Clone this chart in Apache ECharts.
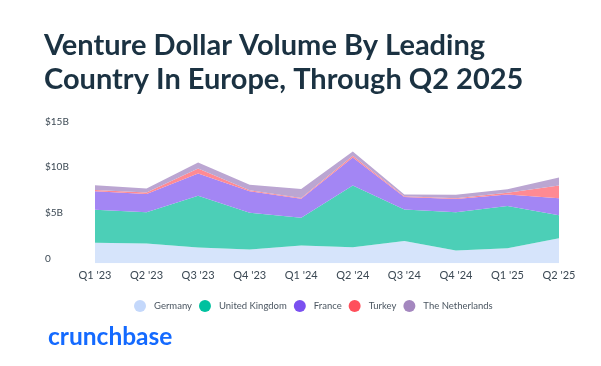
<!DOCTYPE html>
<html>
<head>
<meta charset="utf-8">
<script src="https://cdn.jsdelivr.net/npm/echarts@6/dist/echarts.min.js"></script>
<style>
html,body{margin:0;padding:0;background:#fff;}
#chart{width:601px;height:366px;}
</style>
</head>
<body>
<div id="chart"></div>
<script>
const categories = ["Q1 '23","Q2 '23","Q3 '23","Q4 '23","Q1 '24","Q2 '24","Q3 '24","Q4 '24","Q1 '25","Q2 '25"];
const germany = [2.24, 2.17, 1.74, 1.52, 1.96, 1.76, 2.45, 1.40, 1.65, 2.74];
const unitedKingdom = [3.62, 3.43, 5.66, 4.03, 3.04, 6.77, 3.45, 4.20, 4.63, 2.53];
const france = [2.04, 2.00, 2.45, 2.35, 2.07, 3.07, 1.36, 1.44, 1.27, 1.85];
const turkey = [0.15, 0.15, 0.55, 0.10, 0.10, 0.20, 0.08, 0.08, 0.19, 1.41];
const netherlands = [0.50, 0.45, 0.65, 0.60, 0.98, 0.45, 0.21, 0.40, 0.39, 0.87];
const yTicks = [0, 5, 10, 15];

const seriesDefs = [
  {name: 'Germany', data: germany, color: '#c4d8fb', fill: '#d6e4fb'},
  {name: 'United Kingdom', data: unitedKingdom, color: '#00c19f', fill: '#4ccfb7'},
  {name: 'France', data: france, color: '#7a50f0', fill: '#a386f4'},
  {name: 'Turkey', data: turkey, color: '#ff4f5b', fill: '#ff8a93'},
  {name: 'The Netherlands', data: netherlands, color: '#a487bf', fill: '#bba6d2'}
];

const chart = echarts.init(document.getElementById('chart'), null, {renderer: 'canvas'});
chart.setOption({
  animation: false,
  backgroundColor: '#ffffff',
  textStyle: {fontFamily: 'Lato, sans-serif'},
  title: {
    text: 'Venture Dollar Volume By Leading\nCountry In Europe, Through Q2 2025',
    left: 39, top: 24,
    textStyle: {fontFamily: 'Lato', fontWeight: 'bold', fontSize: 29, lineHeight: 34, color: '#1b3242'}
  },
  legend: {
    data: seriesDefs.map(s => s.name),
    top: 295, left: 129,
    icon: 'circle', itemWidth: 12, itemHeight: 12, itemGap: 7,
    textStyle: {fontSize: 9.5, color: '#4b5661', fontFamily: 'Lato', padding: [0, 0, 0, 3]}
  },
  grid: {left: 95, right: 42, top: 126.5, bottom: 102.7, containLabel: false},
  xAxis: {
    type: 'category', boundaryGap: false, data: categories,
    axisLine: {show: false}, axisTick: {show: false},
    axisLabel: {fontSize: 11, color: '#3c4954', margin: 7, fontFamily: 'Lato'}
  },
  yAxis: {
    type: 'value', min: 0, max: 15, interval: 5,
    splitLine: {show: false}, axisLine: {show: false}, axisTick: {show: false},
    axisLabel: {
      align: 'left', verticalAlign: 'bottom', margin: 50, fontSize: 10, color: '#3c4954', fontFamily: 'Lato',
      formatter: v => yTicks.includes(v) ? (v === 0 ? '0' : '$' + v + 'B') : ''
    }
  },
  series: seriesDefs.map(s => ({
    name: s.name, type: 'line', stack: 'total', data: s.data,
    symbol: 'none', lineStyle: {width: 0},
    itemStyle: {color: s.color},
    areaStyle: {color: s.fill, opacity: 1}
  })),
  graphic: [{
    type: 'text', left: 48, top: 325,
    style: {text: 'crunchbase', fontFamily: 'Lato', fontWeight: 'bold', fontSize: 24.5, fill: '#146aff'}
  }]
});
</script>
</body>
</html>
